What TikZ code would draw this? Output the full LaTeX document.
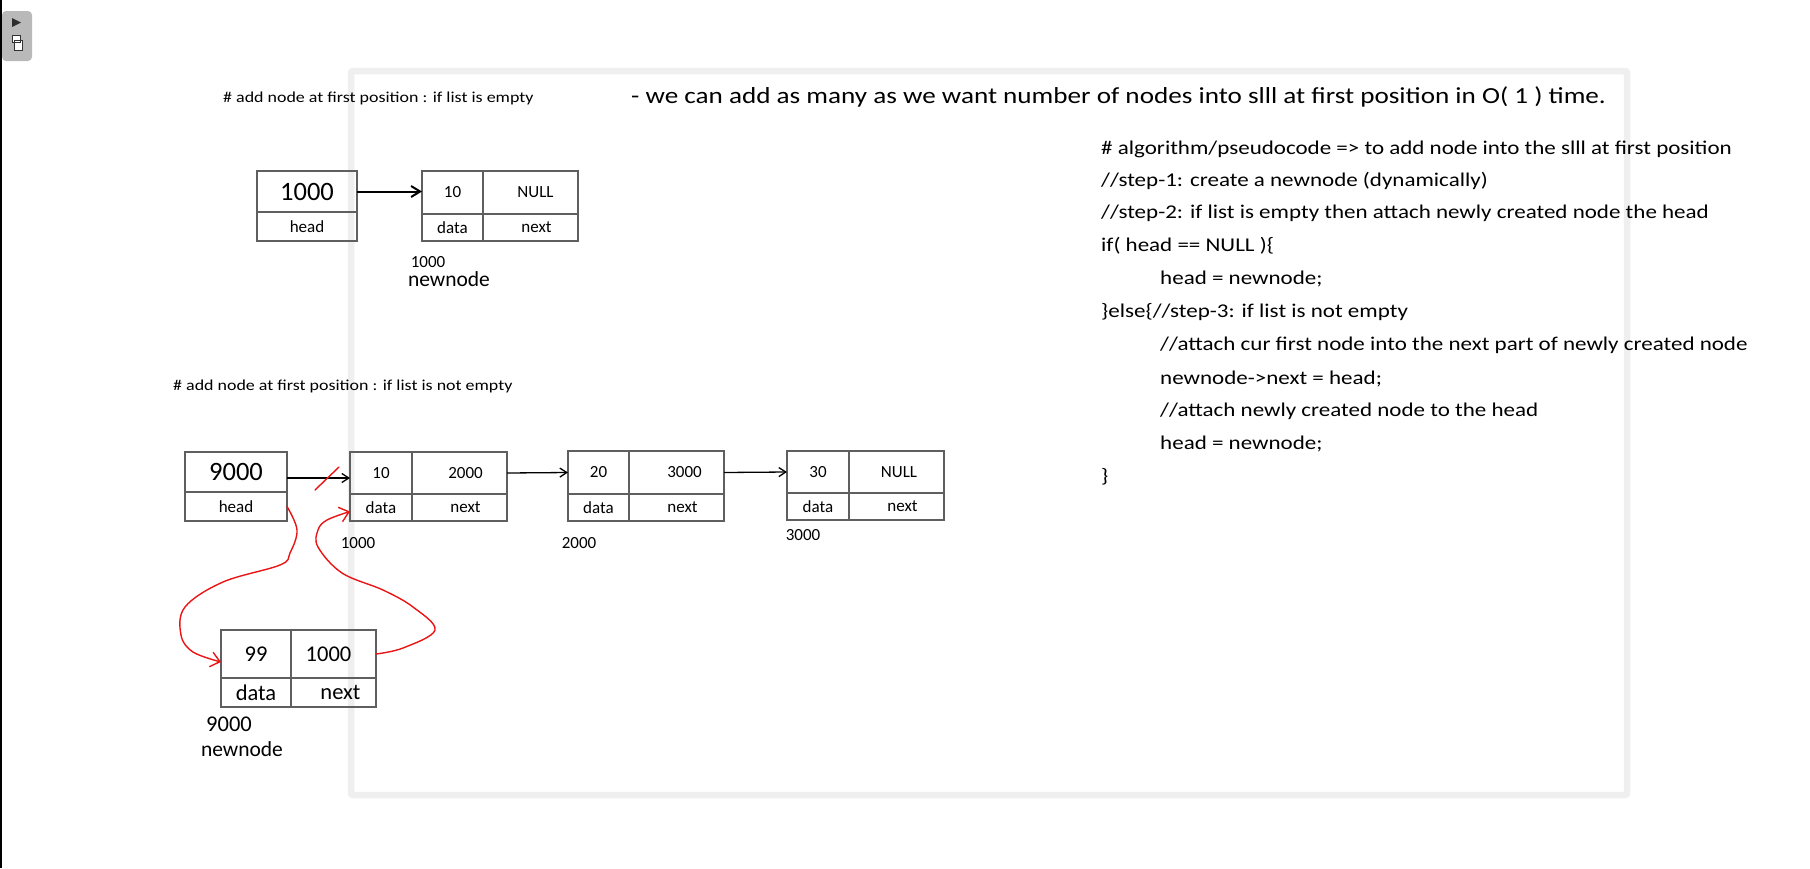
\documentclass[tikz,border=0pt]{standalone}
\usepackage{fontspec}
\setmainfont{Carlito}
\newfontfamily\notefont{Carlito}[FakeStretch=1.18]
\usetikzlibrary{arrows.meta,positioning}

\definecolor{boxgray}{RGB}{95,95,95}
\definecolor{framegray}{RGB}{239,239,239}
\definecolor{inkred}{RGB}{235,20,20}

\newcommand{\fs}[1]{\fontsize{#1}{#1}\selectfont}

\tikzset{
  cell/.style={draw=boxgray, line width=1.3pt, inner sep=0pt, outer sep=0pt, font=\fs{17}},
  link/.style={draw=black, line width=1.3pt, -{Straight Barb[length=7pt,width=9pt]}},
  biglink/.style={draw=black, line width=2pt, -{Straight Barb[length=9pt,width=11pt]}},
  ink/.style={draw=inkred, line width=1.4pt, line cap=round, line join=round},
  inkarrow/.style={ink, -{Straight Barb[length=9pt,width=15pt]}},
  addr/.style={inner sep=0pt, font=\fs{17}},
  heading/.style={anchor=base west, inner sep=0pt, font=\notefont\fs{15.2}},
  code/.style={anchor=base west, inner sep=0pt, font=\notefont\fs{19.5}},
}

\begin{document}
\begin{tikzpicture}[x=1pt,y=-1pt]
\useasboundingbox (0,0) rectangle (1810,868);
% page frame and side widget
\draw[framegray, line width=6.5pt, rounded corners=2pt] (351,71) rectangle (1627,795);
\fill[black] (0,0) rectangle (2,868);
\fill[gray!55, rounded corners=4pt] (2,11) rectangle (32,61);
\fill[gray!35!black] (12,18) -- (21,22.5) -- (12,27) -- cycle;
\draw[gray!40!black, fill=white, line width=0.6pt] (12,35) rectangle (20,42) (14,40) rectangle (22,50);

% list is empty
\node[heading] (title1) at (223,102) {\# add node at first position : if list is empty};
\node[cell, anchor=north west, minimum width=100pt, minimum height=41pt, font=\fs{26.5}] (hv1) at (257,171) {1000};
\node[cell, below=0pt of hv1, minimum width=100pt, minimum height=29pt] (hl1) {head};
\node[cell, anchor=north west, minimum width=61pt, minimum height=43pt] (d1) at (422,171) {10};
\node[cell, right=0pt of d1, minimum width=95pt, minimum height=43pt] (p1) {\hspace*{10pt}NULL};
\node[cell, below=0pt of d1, minimum width=61pt, minimum height=27pt] (dl1) {data};
\node[cell, below=0pt of p1, minimum width=95pt, minimum height=27pt] (pl1) {\hspace*{12pt}next};
\node[addr] (adr1) at (428,262) {1000};
\node[addr, font=\fs{21.5}] (nn1) at (449,279) {newnode};
\draw[biglink] (hv1.east) -- (hv1.east -| d1.west);

% list is not empty
\node[heading] (title2) at (173,390) {\# add node at first position : if list is not empty};
\node[cell, anchor=north west, minimum width=102pt, minimum height=40pt, font=\fs{26.5}] (hv2) at (185,452) {9000};
\node[cell, below=0pt of hv2, minimum width=102pt, minimum height=29pt] (hl2) {head};

\node[cell, anchor=north west, minimum width=62pt, minimum height=42pt] (a1) at (350,452) {10};
\node[cell, right=0pt of a1, minimum width=95pt, minimum height=42pt] (b1) {\hspace*{12pt}2000};
\node[cell, below=0pt of a1, minimum width=62pt, minimum height=27pt] (a1l) {data};
\node[cell, below=0pt of b1, minimum width=95pt, minimum height=27pt] (b1l) {\hspace*{12pt}next};

\node[cell, anchor=north west, minimum width=61pt, minimum height=43pt] (a2) at (568,451) {20};
\node[cell, right=0pt of a2, minimum width=95pt, minimum height=43pt] (b2) {\hspace*{16pt}3000};
\node[cell, below=0pt of a2, minimum width=61pt, minimum height=27pt] (a2l) {data};
\node[cell, below=0pt of b2, minimum width=95pt, minimum height=27pt] (b2l) {\hspace*{12pt}next};

\node[cell, anchor=north west, minimum width=62pt, minimum height=42pt] (a3) at (787,451) {30};
\node[cell, right=0pt of a3, minimum width=95pt, minimum height=42pt] (b3) {\hspace*{5pt}NULL};
\node[cell, below=0pt of a3, minimum width=62pt, minimum height=27pt] (a3l) {data};
\node[cell, below=0pt of b3, minimum width=95pt, minimum height=27pt] (b3l) {\hspace*{12pt}next};

\node[addr] (adr2) at (358,543) {1000};
\node[addr] (adr3) at (579,543) {2000};
\node[addr] (adr4) at (803,535) {3000};

\draw[link] ([yshift=-6pt]hv2.east) -- ([yshift=-5pt]a1.west);
\draw[link] (b1.east) -- (a2.west);
\draw[link] (b2.east) -- (a3.west);

% the new node
\node[cell, anchor=north west, minimum width=70pt, minimum height=48pt, font=\fs{22.5}] (c1) at (221,630) {99};
\node[cell, right=0pt of c1, minimum width=85pt, minimum height=48pt, font=\fs{22.5}] (c2) {1000\hspace*{10pt}};
\node[cell, below=0pt of c1, minimum width=70pt, minimum height=29pt, font=\fs{22.5}] (c1l) {data};
\node[cell, below=0pt of c2, minimum width=85pt, minimum height=29pt, font=\fs{22.5}] (c2l) {\hspace*{14pt}next};
\node[addr, font=\fs{22.5}] (adr5) at (229,724) {9000};
\node[addr, font=\fs{21.5}] (nn2) at (242,749) {newnode};

% red pen marks
\draw[ink] (315,490) -- (339,467);
\draw[inkarrow] plot[smooth, tension=0.6] coordinates {(hl2.east) (297,530) (290,553) (280,565) (223,582) (185,607) (181,635) (193,652) ([yshift=-8pt]c1.west)};
\draw[inkarrow] plot[smooth, tension=0.6] coordinates {(c2.east) (403,648) (435,630) (413,607) (383,590) (342,573) (318,547) (318,530) (327,520) ([yshift=-4pt]a1l.west)};

% notes
\node[anchor=base west, inner sep=0pt, font=\notefont\fs{23}] (remark) at (631,103) {- we can add as many as we want number of nodes into slll at first position in O( 1 ) time.};
\node[code] (l1) at (1101,154) {\# algorithm/pseudocode => to add node into the slll at first position};
\node[code] (l2) at (1101,186) {//step-1: create a newnode (dynamically)};
\node[code] (l3) at (1101,218) {//step-2: if list is empty then attach newly created node the head};
\node[code] (l4) at (1101,251) {if( head == NULL )\{};
\node[code] (l5) at (1160,284) {head = newnode;};
\node[code] (l6) at (1101,317) {\}else\{//step-3: if list is not empty};
\node[code] (l7) at (1160,350) {//attach cur first node into the next part of newly created node};
\node[code] (l8) at (1160,384) {newnode->next = head;};
\node[code] (l9) at (1160,416) {//attach newly created node to the head};
\node[code] (l10) at (1160,449) {head = newnode;};
\node[code] (l11) at (1101,482) {\}};
\end{tikzpicture}
\end{document}
